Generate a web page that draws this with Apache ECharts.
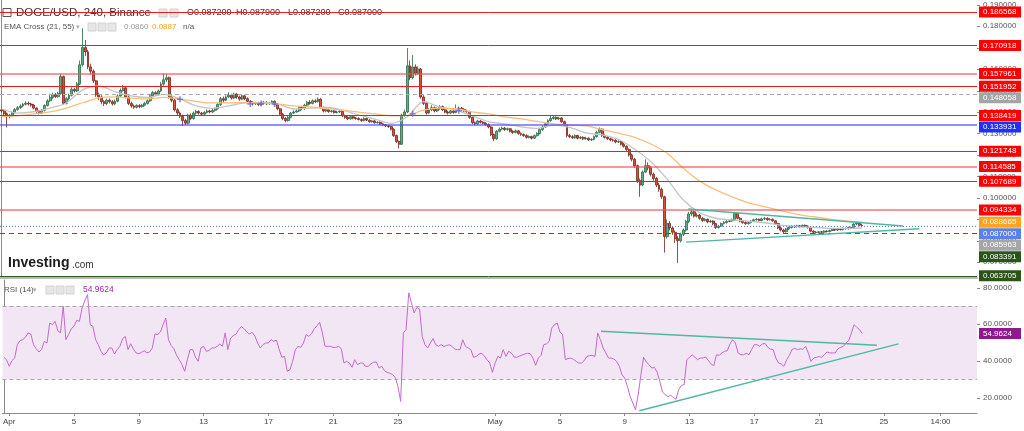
<!DOCTYPE html>
<html><head><meta charset="utf-8">
<script src="https://cdn.jsdelivr.net/npm/echarts@6/dist/echarts.min.js"></script>
<style>html,body{margin:0;padding:0;background:#fff}#c{width:1024px;height:431px}</style>
</head><body><div id="c"></div>
<script>
// ---------------- DATA ----------------
const firstOpen = 0.1410;
const closes = [0.1405,0.1392,0.1378,0.1385,0.1398,0.1412,
0.1420,0.1428,0.1436,0.1441,0.1437,0.1432,
0.1418,0.1402,0.1395,0.1408,0.1430,0.1452,
0.1468,0.1480,0.1472,0.1486,0.1565,0.1440,
0.1462,0.1478,0.1505,0.1498,0.1530,0.1620,
0.1700,0.1680,0.1610,0.1590,0.1545,0.1480,
0.1470,0.1448,0.1440,0.1455,0.1448,0.1438,
0.1450,0.1475,0.1500,0.1512,0.1470,0.1440,
0.1428,0.1422,0.1430,0.1425,0.1432,0.1440,
0.1452,0.1475,0.1490,0.1482,0.1498,0.1530,
0.1550,0.1560,0.1470,0.1455,0.1410,0.1395,
0.1380,0.1360,0.1348,0.1385,0.1370,0.1395,
0.1402,0.1395,0.1390,0.1398,0.1405,0.1400,
0.1408,0.1415,0.1435,0.1462,0.1455,0.1470,
0.1478,0.1465,0.1483,0.1470,0.1460,0.1475,
0.1462,0.1450,0.1445,0.1438,0.1442,0.1435,
0.1440,0.1445,0.1438,0.1442,0.1450,0.1436,
0.1415,0.1390,0.1370,0.1360,0.1375,0.1395,
0.1400,0.1405,0.1420,0.1415,0.1432,0.1445,
0.1440,0.1452,0.1448,0.1460,0.1420,0.1405,
0.1410,0.1402,0.1405,0.1398,0.1400,0.1403,
0.1382,0.1375,0.1368,0.1378,0.1372,0.1370,
0.1365,0.1360,0.1370,0.1362,0.1355,0.1358,
0.1350,0.1352,0.1345,0.1340,0.1335,0.1332,
0.1320,0.1290,0.1262,0.1250,0.1385,0.1400,
0.1615,0.1560,0.1610,0.1580,0.1600,0.1470,
0.1440,0.1395,0.1410,0.1420,0.1405,0.1415,
0.1425,0.1410,0.1400,0.1395,0.1405,0.1398,
0.1410,0.1418,0.1412,0.1405,0.1402,0.1375,
0.1350,0.1345,0.1358,0.1352,0.1348,0.1342,
0.1330,0.1295,0.1275,0.1310,0.1320,0.1325,
0.1318,0.1322,0.1310,0.1305,0.1312,0.1300,
0.1295,0.1290,0.1282,0.1285,0.1278,0.1290,
0.1300,0.1318,0.1330,0.1345,0.1360,0.1370,
0.1375,0.1368,0.1372,0.1355,0.1340,0.1290,
0.1285,0.1280,0.1290,0.1278,0.1282,0.1275,
0.1278,0.1270,0.1272,0.1285,0.1305,0.1320,
0.1290,0.1282,0.1275,0.1270,0.1268,0.1260,
0.1262,0.1250,0.1240,0.1225,0.1200,0.1180,
0.1150,0.1080,0.1060,0.1120,0.1150,0.1140,
0.1110,0.1090,0.1060,0.1040,0.1005,0.0820,
0.0880,0.0860,0.0840,0.0810,0.0800,0.0830,
0.0850,0.0890,0.0925,0.0935,0.0915,0.0920,
0.0905,0.0895,0.0900,0.0888,0.0892,0.0880,
0.0862,0.0868,0.0880,0.0885,0.0890,0.0893,
0.0898,0.0928,0.0905,0.0892,0.0885,0.0880,
0.0885,0.0892,0.0898,0.0900,0.0895,0.0902,
0.0905,0.0898,0.0900,0.0893,0.0880,0.0860,
0.0850,0.0842,0.0855,0.0862,0.0868,0.0865,
0.0870,0.0866,0.0872,0.0868,0.0862,0.0845,
0.0840,0.0838,0.0842,0.0840,0.0845,0.0843,
0.0848,0.0852,0.0850,0.0855,0.0852,0.0858,
0.0856,0.0862,0.0860,0.0878,0.0882,0.0872,
0.0870];
const highs = [0.1418,0.1410,0.1398,0.1392,0.1403,0.1418,
0.1428,0.1436,0.1442,0.1450,0.1448,0.1443,
0.1437,0.1422,0.1408,0.1414,0.1436,0.1460,
0.1485,0.1490,0.1488,0.1494,0.1578,0.1570,
0.1470,0.1486,0.1515,0.1512,0.1540,0.1640,
0.1790,0.1735,0.1690,0.1625,0.1598,0.1550,
0.1490,0.1478,0.1455,0.1462,0.1463,0.1455,
0.1458,0.1482,0.1510,0.1525,0.1518,0.1476,
0.1448,0.1435,0.1436,0.1437,0.1438,0.1446,
0.1460,0.1482,0.1498,0.1496,0.1505,0.1540,
0.1580,0.1578,0.1565,0.1480,0.1462,0.1418,
0.1402,0.1388,0.1368,0.1392,0.1393,0.1402,
0.1410,0.1408,0.1400,0.1404,0.1412,0.1410,
0.1414,0.1420,0.1442,0.1470,0.1472,0.1478,
0.1492,0.1485,0.1490,0.1488,0.1476,0.1480,
0.1480,0.1468,0.1456,0.1450,0.1448,0.1447,
0.1446,0.1452,0.1450,0.1447,0.1455,0.1454,
0.1440,0.1420,0.1396,0.1376,0.1382,0.1400,
0.1408,0.1412,0.1426,0.1428,0.1438,0.1452,
0.1455,0.1458,0.1460,0.1468,0.1464,0.1426,
0.1416,0.1415,0.1410,0.1409,0.1406,0.1408,
0.1406,0.1388,0.1380,0.1384,0.1382,0.1377,
0.1375,0.1370,0.1375,0.1374,0.1366,0.1362,
0.1362,0.1357,0.1356,0.1350,0.1344,0.1340,
0.1336,0.1324,0.1295,0.1268,0.1392,0.1412,
0.1698,0.1640,0.1665,0.1622,0.1612,0.1605,
0.1478,0.1448,0.1418,0.1432,0.1426,0.1422,
0.1432,0.1430,0.1416,0.1406,0.1410,0.1410,
0.1435,0.1425,0.1424,0.1418,0.1410,0.1406,
0.1380,0.1356,0.1364,0.1362,0.1357,0.1352,
0.1347,0.1334,0.1300,0.1316,0.1328,0.1332,
0.1330,0.1327,0.1326,0.1315,0.1318,0.1316,
0.1305,0.1300,0.1296,0.1291,0.1290,0.1295,
0.1306,0.1324,0.1336,0.1350,0.1366,0.1385,
0.1382,0.1380,0.1378,0.1376,0.1360,0.1344,
0.1298,0.1292,0.1296,0.1294,0.1288,0.1287,
0.1284,0.1282,0.1278,0.1290,0.1312,0.1328,
0.1324,0.1296,0.1288,0.1280,0.1276,0.1273,
0.1268,0.1266,0.1256,0.1245,0.1230,0.1206,
0.1186,0.1155,0.1090,0.1128,0.1180,0.1165,
0.1148,0.1118,0.1098,0.1070,0.1048,0.1010,
0.0900,0.0892,0.0868,0.0848,0.0822,0.0838,
0.0858,0.0898,0.0935,0.0948,0.0942,0.0930,
0.0925,0.0910,0.0906,0.0904,0.0898,0.0896,
0.0884,0.0874,0.0885,0.0892,0.0896,0.0899,
0.0904,0.0935,0.0930,0.0910,0.0896,0.0890,
0.0890,0.0897,0.0903,0.0906,0.0904,0.0908,
0.0910,0.0909,0.0905,0.0904,0.0896,0.0884,
0.0865,0.0856,0.0860,0.0867,0.0873,0.0872,
0.0875,0.0874,0.0876,0.0876,0.0872,0.0865,
0.0849,0.0845,0.0846,0.0846,0.0849,0.0849,
0.0852,0.0856,0.0856,0.0859,0.0859,0.0862,
0.0862,0.0866,0.0866,0.0882,0.0889,0.0886,
0.0879];
const lows = [0.1398,0.1385,0.1328,0.1370,0.1380,0.1393,
0.1405,0.1414,0.1422,0.1430,0.1430,0.1425,
0.1412,0.1396,0.1388,0.1390,0.1402,0.1425,
0.1446,0.1460,0.1465,0.1466,0.1480,0.1432,
0.1435,0.1455,0.1472,0.1490,0.1492,0.1525,
0.1612,0.1660,0.1600,0.1575,0.1535,0.1470,
0.1455,0.1436,0.1428,0.1432,0.1440,0.1430,
0.1432,0.1445,0.1470,0.1495,0.1462,0.1432,
0.1420,0.1415,0.1416,0.1418,0.1420,0.1427,
0.1435,0.1447,0.1468,0.1474,0.1476,0.1492,
0.1522,0.1540,0.1462,0.1445,0.1402,0.1385,
0.1372,0.1334,0.1338,0.1342,0.1362,0.1364,
0.1388,0.1388,0.1383,0.1385,0.1393,0.1394,
0.1395,0.1402,0.1410,0.1428,0.1446,0.1450,
0.1465,0.1458,0.1460,0.1462,0.1452,0.1455,
0.1455,0.1443,0.1438,0.1430,0.1432,0.1428,
0.1430,0.1434,0.1432,0.1433,0.1437,0.1430,
0.1408,0.1382,0.1362,0.1352,0.1355,0.1370,
0.1390,0.1396,0.1400,0.1408,0.1410,0.1428,
0.1434,0.1436,0.1442,0.1444,0.1414,0.1398,
0.1399,0.1396,0.1397,0.1392,0.1393,0.1396,
0.1376,0.1368,0.1362,0.1364,0.1366,0.1364,
0.1360,0.1354,0.1356,0.1357,0.1350,0.1350,
0.1345,0.1346,0.1340,0.1334,0.1330,0.1326,
0.1314,0.1284,0.1255,0.1230,0.1246,0.1378,
0.1395,0.1548,0.1552,0.1570,0.1572,0.1462,
0.1432,0.1388,0.1390,0.1404,0.1398,0.1400,
0.1410,0.1404,0.1394,0.1388,0.1390,0.1392,
0.1394,0.1405,0.1406,0.1400,0.1396,0.1368,
0.1343,0.1338,0.1340,0.1346,0.1342,0.1336,
0.1324,0.1288,0.1265,0.1270,0.1305,0.1315,
0.1312,0.1313,0.1304,0.1298,0.1300,0.1294,
0.1289,0.1284,0.1276,0.1277,0.1272,0.1274,
0.1285,0.1295,0.1312,0.1326,0.1340,0.1355,
0.1364,0.1362,0.1362,0.1350,0.1334,0.1282,
0.1278,0.1274,0.1275,0.1272,0.1273,0.1269,
0.1270,0.1264,0.1265,0.1268,0.1280,0.1300,
0.1284,0.1276,0.1270,0.1264,0.1262,0.1254,
0.1255,0.1244,0.1234,0.1218,0.1192,0.1170,
0.1140,0.1070,0.1005,0.1055,0.1115,0.1128,
0.1100,0.1080,0.1050,0.1028,0.0995,0.0745,
0.0810,0.0848,0.0828,0.0790,0.0697,0.0792,
0.0822,0.0842,0.0882,0.0915,0.0908,0.0908,
0.0898,0.0888,0.0890,0.0882,0.0884,0.0872,
0.0855,0.0857,0.0864,0.0876,0.0880,0.0886,
0.0888,0.0894,0.0900,0.0886,0.0879,0.0874,
0.0875,0.0881,0.0888,0.0894,0.0890,0.0891,
0.0897,0.0893,0.0894,0.0888,0.0874,0.0854,
0.0844,0.0836,0.0838,0.0850,0.0857,0.0860,
0.0861,0.0861,0.0862,0.0864,0.0857,0.0840,
0.0835,0.0834,0.0834,0.0836,0.0836,0.0839,
0.0839,0.0844,0.0846,0.0846,0.0848,0.0848,
0.0852,0.0852,0.0856,0.0856,0.0872,0.0868,
0.0866];
// EMA values read every 6 candles (one per day)
const emaStep = 6;
const ema21 = [0.1415,0.1395,0.1401,0.1418,0.1442,0.1503,0.1521,0.1495,0.1475,0.1468,0.1482,0.1461,0.1428,0.1417,0.1428,0.1442,0.1445,0.1438,0.1414,0.1418,0.1422,0.1409,0.1386,0.1367,0.1347,0.1378,0.1448,0.1424,0.1409,0.1382,0.1355,0.1344,0.1331,0.1324,0.1339,0.1328,0.1303,0.1293,0.1273,0.1226,0.1168,0.1087,0.0990,0.0931,0.0905,0.0897,0.0891,0.0884,0.0873,0.0866,0.0863,0.0858,0.0858,0.085963];
const ema55 = [0.1380,0.1382,0.1391,0.1400,0.1418,0.1443,0.1466,0.1470,0.1465,0.1461,0.1468,0.1460,0.1449,0.1442,0.1442,0.1444,0.1441,0.1438,0.1428,0.1424,0.1416,0.1409,0.1399,0.1391,0.1382,0.1384,0.1409,0.1418,0.1415,0.1400,0.1391,0.1377,0.1368,0.1356,0.1345,0.1339,0.1335,0.1318,0.1301,0.1282,0.1251,0.1208,0.1138,0.1078,0.1037,0.1005,0.0977,0.0959,0.0940,0.0923,0.0912,0.0901,0.0893,0.088665];
const crossIdx = [66, 92, 96, 101, 152, 169];
const crossVal = [0.1459, 0.1437, 0.1440, 0.1437, 0.1392, 0.1406];
const rsi14 = [42.0,40.7,37.1,40.2,41.6,48.9,51.1,51.6,52.9,55.3,
54.7,48.9,46.7,44.9,46.2,50.7,49.8,60.7,59.8,61.6,
56.5,55.3,69.8,51.6,54.4,57.6,58.9,62.2,61.6,68.9,
72.9,76.2,59.8,58.9,51.6,48.9,45.3,43.4,44.4,47.1,
47.1,43.8,46.2,48.0,52.2,53.4,46.2,49.4,46.5,44.4,
44.0,44.7,45.6,44.4,44.9,47.1,54.7,54.4,55.8,59.8,
63.4,51.6,48.4,46.7,43.1,40.7,38.0,34.4,40.7,46.2,
46.2,42.0,39.8,47.1,48.0,45.3,45.6,47.1,47.1,48.0,
49.2,48.0,55.3,46.2,52.5,53.8,54.7,57.1,58.7,57.6,
55.8,54.7,55.6,53.6,49.8,47.1,48.9,49.8,49.8,51.6,
50.7,51.4,46.2,42.0,42.5,34.4,35.3,39.8,46.2,48.0,
47.4,49.8,54.4,53.4,54.9,57.6,59.2,61.1,55.3,48.0,
48.0,48.0,47.4,47.4,48.0,46.7,38.9,39.8,38.9,36.6,
40.7,38.0,38.9,38.9,37.1,37.1,38.5,39.4,39.4,36.2,
37.1,34.7,33.8,33.3,32.5,31.1,26.2,18.0,55.3,57.1,
77.1,71.6,66.2,69.2,68.3,53.4,48.9,47.1,49.8,52.2,
48.9,48.0,48.9,48.0,48.4,48.9,48.0,46.5,46.2,46.2,
51.6,48.0,47.1,46.2,42.0,42.5,43.8,44.2,42.7,40.7,
38.9,33.8,38.9,42.5,41.6,46.2,42.5,45.3,44.4,42.2,
42.0,42.7,43.3,43.8,44.2,44.0,41.6,37.6,41.6,43.1,
48.9,49.3,50.7,58.0,59.8,60.7,55.8,54.4,40.7,41.3,
41.6,40.9,39.8,38.9,38.9,40.2,42.5,42.9,43.1,42.5,
55.3,51.6,47.1,44.4,41.6,41.6,41.1,39.8,37.1,32.5,
30.7,26.2,20.7,17.1,13.5,21.7,32.5,42.0,39.4,38.0,
36.2,36.5,34.0,28.9,23.1,21.7,20.6,21.3,20.2,19.1,
24.4,26.7,27.1,40.7,42.0,43.4,42.0,40.7,41.6,41.6,
42.2,40.2,38.4,37.4,43.4,43.1,44.4,45.3,45.6,49.3,
51.6,49.8,44.4,43.4,43.4,44.2,43.4,46.2,48.9,48.9,
48.0,49.3,49.6,47.4,46.5,46.2,41.6,38.9,38.4,37.1,
40.7,43.1,46.3,46.9,46.2,46.7,46.3,48.0,44.4,39.8,
41.6,42.0,42.4,42.0,43.4,44.9,44.4,44.4,44.4,46.7,
47.4,48.0,49.8,51.1,55.3,59.8,58.3,57.1,54.9624];
// horizontal levels drawn on the price chart
const levelValues = [0.186568,0.170918,0.157961,0.151952,0.148058,0.138419,0.133931,0.121748,0.114585,0.107689,0.094334,0.083391,0.063705];
const levelKinds  = ['red','red','redSoft','red','grayDash','red','blue','red','redSoft','red','redSoft','greenDash','green'];
// trendlines (candle index, value)
const priceTrendUpper = [[253.8, 0.0948], [333.3, 0.0869]];
const priceTrendLower = [[253.0, 0.0794], [339.2, 0.0856]];
const rsiTrendUpper = [[221.2, 56.2], [323.4, 48.6]];
const rsiTrendLower = [[235.4, 12.9], [331.4, 49.3]];
// axis ticks
const priceTicks = [0.07,0.08,0.09,0.10,0.11,0.12,0.13,0.14,0.15,0.16,0.17,0.18,0.19];
const rsiTicks = [20,40,60,80];
const dateTickAt = ['2022-04-01 00:00','2022-04-05 00:00','2022-04-09 00:00','2022-04-13 00:00','2022-04-17 00:00','2022-04-21 00:00','2022-04-25 00:00','2022-05-01 00:00','2022-05-05 00:00','2022-05-09 00:00','2022-05-13 00:00','2022-05-17 00:00','2022-05-21 00:00','2022-05-25 00:00','2022-05-28 12:00'];
const dateTickText = ['Apr','5','9','13','17','21','25','May','5','9','13','17','21','25','14:00'];
const header = {title:'DOGE/USD, 240, Binance', ohlc:['O0.087200','H0.087900','L0.087200','C0.087000'], ema:'EMA Cross (21, 55)', rsi:'RSI (14)'};

// ---------------- BUILD ----------------
const nSlots = 361;
const startTime = Date.UTC(2022, 2, 31, 16);
const pad = n => String(n).padStart(2, '0');
const cats = [];
for (let i = 0; i < nSlots; i++) {
  const d = new Date(startTime + i * 4 * 3600e3);
  cats.push(d.getUTCFullYear() + '-' + pad(d.getUTCMonth() + 1) + '-' + pad(d.getUTCDate()) + ' ' + pad(d.getUTCHours()) + ':00');
}
const tickMap = {};
dateTickAt.forEach((t, k) => { tickMap[t] = dateTickText[k]; });
const showTick = (idx, val) => tickMap[val] !== undefined;

const candles = closes.map((c, i) => [i === 0 ? firstOpen : closes[i - 1], c, lows[i], highs[i]]);
const ema21Data = ema21.map((v, k) => [k * emaStep, v]);
const ema55Data = ema55.map((v, k) => [k * emaStep, v]);
const crossData = crossIdx.map((x, k) => [x, crossVal[k]]);

const FONT = '"Liberation Sans", Arial, sans-serif';
const kindStyle = {
  red:       {color: '#f01c1c', width: 1, type: 'solid'},
  redSoft:   {color: 'rgba(245,80,80,0.6)', width: 2, type: 'solid'},
  grayDash:  {color: '#aaaaaa', width: 1, type: [4, 3]},
  blue:      {color: 'rgba(70,70,255,0.6)', width: 2, type: 'solid'},
  greenDash: {color: '#3d6b2c', width: 1, type: [5, 4]},
  green:     {color: '#2e5a1c', width: 1, type: 'solid'}
};
const kindBox = {red:'#ff0000', redSoft:'#ff0000', grayDash:'#a4a4a4', blue:'#1e30fa', greenDash:'#2b5419', green:'#2b5419'};

const markLines = levelValues.map((v, k) => ({yAxis: v, lineStyle: kindStyle[levelKinds[k]]}));
markLines.push({yAxis: closes[closes.length - 1], lineStyle: {color: '#5a7fe6', width: 1, type: [1, 2]}});

const hiddenVal = (grid) => ({type: 'value', gridIndex: grid, min: -0.5, max: nSlots - 0.5, show: false});

const option = {
  animation: false,
  backgroundColor: '#ffffff',
  grid: [
    {left: 0, right: 47, top: 0, height: 278},
    {left: 0, right: 47, top: 280, height: 133}
  ],
  xAxis: [
    {type: 'category', gridIndex: 0, data: cats, boundaryGap: true,
     axisLine: {show: true, lineStyle: {color: '#b8b8b8', width: 2}}, axisTick: {show: false}, axisLabel: {show: false}, splitLine: {show: false}},
    hiddenVal(0),
    {type: 'category', gridIndex: 1, data: cats, boundaryGap: true,
     axisLine: {show: true, lineStyle: {color: '#8a8a8a', width: 1}},
     axisTick: {show: true, interval: showTick, alignWithLabel: true, length: 3, lineStyle: {color: '#8a8a8a'}},
     axisLabel: {show: true, interval: showTick, formatter: v => tickMap[v] || '', fontSize: 8, color: '#444', fontFamily: FONT, margin: 5},
     splitLine: {show: false}},
    hiddenVal(1)
  ],
  yAxis: [
    {type: 'value', gridIndex: 0, position: 'right', min: 0.06267, max: 0.19216,
     axisLine: {show: true, lineStyle: {color: '#8a8a8a'}},
     axisTick: {show: false},
     axisLabel: {show: true, customValues: priceTicks, formatter: v => v.toFixed(6), fontSize: 8, color: '#555', fontFamily: FONT, margin: 6},
     splitLine: {show: false}},
    {type: 'value', gridIndex: 1, position: 'right', min: 11.66, max: 84.14,
     axisLine: {show: true, lineStyle: {color: '#8a8a8a'}},
     axisTick: {show: false},
     axisLabel: {show: true, customValues: rsiTicks, formatter: v => v.toFixed(4), fontSize: 8, color: '#555', fontFamily: FONT, margin: 6},
     splitLine: {show: false}}
  ],
  series: [
    {type: 'candlestick', xAxisIndex: 0, yAxisIndex: 0, data: candles, barWidth: 2.4, z: 3,
     itemStyle: {color: '#5fae85', color0: '#d9503f', borderColor: '#2a6b48', borderColor0: '#7a2418', borderWidth: 0.8},
     markLine: {silent: true, precision: 6, symbol: ['none', 'none'], label: {show: false}, data: markLines, animation: false}},
    {type: 'line', name: 'EMA21', xAxisIndex: 1, yAxisIndex: 0, data: ema21Data, showSymbol: false, smooth: 0.3,
     lineStyle: {color: '#c4c4c4', width: 1.3}, z: 4},
    {type: 'line', name: 'EMA55', xAxisIndex: 1, yAxisIndex: 0, data: ema55Data, showSymbol: false, smooth: 0.3,
     lineStyle: {color: '#fbbd7c', width: 1.3}, z: 4},
    {type: 'scatter', xAxisIndex: 1, yAxisIndex: 0, data: crossData, symbol: 'path://M3,0H5V3H8V5H5V8H3V5H0V3H3Z', symbolSize: 6,
     itemStyle: {color: '#6a5fd8'}, z: 5},
    {type: 'line', xAxisIndex: 1, yAxisIndex: 0, data: priceTrendUpper, showSymbol: false, lineStyle: {color: '#4fb8a4', width: 1.4}, z: 6},
    {type: 'line', xAxisIndex: 1, yAxisIndex: 0, data: priceTrendLower, showSymbol: false, lineStyle: {color: '#4fb8a4', width: 1.4}, z: 6},
    {type: 'line', name: 'RSI', xAxisIndex: 2, yAxisIndex: 1, data: rsi14, showSymbol: false,
     lineStyle: {color: '#c46bcc', width: 1}, z: 3,
     markArea: {silent: true, itemStyle: {color: '#f2e6f4'}, data: [[{yAxis: 30}, {yAxis: 70}]]},
     markLine: {silent: true, precision: 4, symbol: ['none', 'none'], label: {show: false},
       lineStyle: {color: '#a8a8a8', type: [4, 3], width: 1}, data: [{yAxis: 70}, {yAxis: 30}]}},
    {type: 'line', xAxisIndex: 3, yAxisIndex: 1, data: rsiTrendUpper, showSymbol: false, lineStyle: {color: '#4fb8a4', width: 1.4}, z: 6},
    {type: 'line', xAxisIndex: 3, yAxisIndex: 1, data: rsiTrendLower, showSymbol: false, lineStyle: {color: '#4fb8a4', width: 1.4}, z: 6}
  ]
};

const chart = echarts.init(document.getElementById('c'), null, {renderer: 'canvas'});
chart.setOption(option);

// --------- header texts & right-side value labels ---------
const txt = (x, y, text, size, fill, weight, z) => ({type: 'text', x: x, y: y, z: z || 0,
  style: {text: text, font: (weight || 'normal') + ' ' + size + 'px ' + FONT, fill: fill, verticalAlign: 'middle', align: 'left'}});
const icon = (x, y) => ({type: 'rect', z: 0, shape: {x: x, y: y, width: 8, height: 8}, style: {fill: '#e6e6e6', stroke: '#d2d2d2', lineWidth: 1}});
const els = [
  {type: 'rect', z: 0, shape: {x: 3, y: 8.5, width: 8, height: 8}, style: {fill: '#fff', stroke: '#555', lineWidth: 1}},
  txt(16, 13, header.title, 11.5, '#333'),
  txt(147, 13, '▾', 8, '#aaa'),
  icon(159, 9), icon(170, 9),
  txt(187, 13, header.ohlc[0], 9, '#333'),
  txt(236, 13, header.ohlc[1], 9, '#333'),
  txt(288, 13, header.ohlc[2], 9, '#333'),
  txt(338, 13, header.ohlc[3], 9, '#333'),
  txt(4, 27, header.ema, 8, '#555'),
  txt(76, 27, '▾', 7, '#aaa'),
  icon(88, 23), icon(98, 23), icon(108, 23),
  txt(124, 27, ema21[ema21.length - 1].toFixed(4), 8, '#9a9a9a'),
  txt(152, 27, ema55[ema55.length - 1].toFixed(4), 8, '#f5a020'),
  txt(183, 27, 'n/a', 8, '#555'),
  txt(8, 263, 'Investing', 14, '#1b1b1b', 'bold'),
  txt(72, 265, '.com', 10, '#333'),
  txt(4, 290, header.rsi, 8, '#555'),
  txt(33, 290, '▾', 7, '#aaa'),
  icon(46, 286), icon(56, 286), icon(66, 286),
  txt(83, 290, rsi14[rsi14.length - 1].toFixed(4), 8.5, '#a02aa8')
];

// axis tick marks at the label positions (from the axis scales)
const axisX = chart.convertToPixel({xAxisIndex: 1}, nSlots - 0.5);
priceTicks.forEach(v => {
  const y = Math.round(chart.convertToPixel({yAxisIndex: 0}, v)) + 0.5;
  els.push({type: 'line', z: 0, shape: {x1: axisX, y1: y, x2: axisX + 3, y2: y}, style: {stroke: '#8a8a8a', lineWidth: 1}});
});
rsiTicks.forEach(v => {
  const y = Math.round(chart.convertToPixel({yAxisIndex: 1}, v)) + 0.5;
  els.push({type: 'line', z: 0, shape: {x1: axisX, y1: y, x2: axisX + 3, y2: y}, style: {stroke: '#8a8a8a', lineWidth: 1}});
});

const labelItems = levelValues.map((v, k) => ({v: v, color: kindBox[levelKinds[k]]}));
labelItems.push({v: ema55[ema55.length - 1], color: '#ffa21f'});
labelItems.push({v: closes[closes.length - 1], color: '#5b80e6'});
labelItems.push({v: ema21[ema21.length - 1], color: '#a6a6a6'});
labelItems.sort((a, b) => b.v - a.v);
let prevY = -1e9;
labelItems.forEach(it => {
  let y = chart.convertToPixel({yAxisIndex: 0}, it.v);
  if (y < prevY + 11.5) y = prevY + 11.5;
  prevY = y;
  els.push({type: 'rect', z: 100, shape: {x: 979, y: y - 5.5, width: 42, height: 11}, style: {fill: it.color}});
  els.push(txt(983, y, it.v.toFixed(6), 8, '#ffffff', 'normal', 101));
});
const rsiLast = rsi14[rsi14.length - 1];
const ry = chart.convertToPixel({yAxisIndex: 1}, rsiLast);
els.push({type: 'rect', z: 100, shape: {x: 979, y: ry - 5.5, width: 42, height: 11}, style: {fill: '#8e1a8e'}});
els.push(txt(983, ry, rsiLast.toFixed(4), 8, '#ffffff', 'normal', 101));

chart.setOption({graphic: {elements: els}});
</script></body></html>
